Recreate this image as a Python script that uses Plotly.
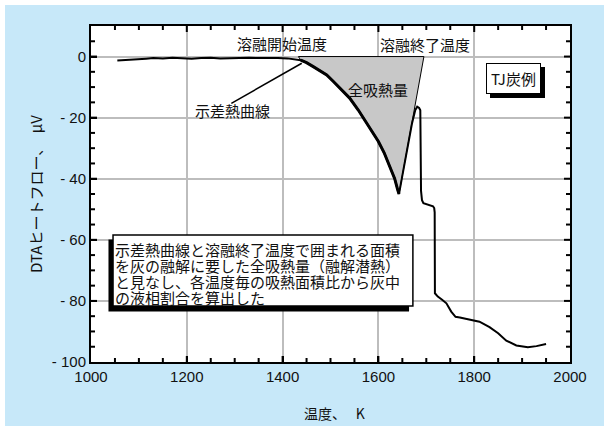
import plotly.graph_objects as go

# ---- data ----
temp_K = [1055, 1070, 1085, 1100, 1115, 1130, 1150, 1170, 1190, 1210, 1230, 1250,
          1270, 1290, 1310, 1330, 1350, 1370, 1390, 1410, 1425, 1438, 1450, 1464,
          1478, 1492, 1505, 1520, 1540, 1558, 1575, 1587, 1600, 1612, 1623, 1634,
          1640, 1643, 1650, 1660, 1670, 1677, 1681, 1685, 1687.5, 1689, 1691, 1694,
          1700, 1708, 1714, 1716.5, 1717.5, 1718, 1724, 1733, 1742, 1752, 1761, 1770,
          1790, 1811, 1832, 1850, 1867, 1888, 1912, 1930, 1950]
dta_uV = [-1.3, -1.2, -1.1, -0.9, -0.7, -0.5, -0.6, -0.4, -0.6, -0.7, -0.5, -0.4,
          -0.6, -0.5, -0.6, -0.4, -0.5, -0.4, -0.5, -0.6, -0.8, -1.2, -2.0, -3.3,
          -4.6, -6.0, -8.0, -10.5, -13.6, -17.5, -21.5, -24.5, -27.8, -31.5, -35.5, -40.0,
          -43.5, -45.0, -39.0, -30.5, -22.0, -17.5, -16.4, -16.8, -17.6, -44.0, -47.0, -48.0,
          -48.3, -48.6, -49.0, -49.6, -51.0, -77.5, -78.6, -79.6, -80.8, -83.5, -85.2, -85.4,
          -86.2, -86.8, -88.6, -90.6, -93.0, -94.6, -95.2, -94.8, -94.1]

melt_start_K = 1433
melt_end_K = 1695
peak_min_K = 1643

x_tickvals = [1000, 1200, 1400, 1600, 1800, 2000]
x_ticktext = ["1000", "1200", "1400", "1600", "1800", "2000"]
y_tickvals = [0, -20, -40, -60, -80, -100]
y_ticktext = ["0", "- 20", "- 40", "- 60", "- 80", "- 100"]
x_minor_step = 50
y_minor_step = 5

note_lines = [
    "示差熱曲線と溶融終了温度で囲まれる面積",
    "を灰の融解に要した全吸熱量（融解潜熱）",
    "と見なし、各温度毎の吸熱面積比から灰中",
    "の液相割合を算出した",
]

# ---- build ----
JP = "Noto Sans CJK JP"
NUM = "Arial, Liberation Sans, sans-serif"
X_RANGE = [1000, 2000]
Y_RANGE = [-100, 10]

desc_x = [t for t in temp_K if melt_start_K < t <= peak_min_K]
desc_y = [v for t, v in zip(temp_K, dta_uV) if melt_start_K < t <= peak_min_K]

fig = go.Figure()

fig.add_trace(go.Scatter(
    x=[melt_start_K] + desc_x + [melt_end_K, melt_start_K],
    y=[0] + desc_y + [0, 0],
    fill="toself", fillcolor="#c8c8c8", mode="lines",
    line=dict(color="black", width=1), hoverinfo="skip", showlegend=False))
fig.add_trace(go.Scatter(x=temp_K, y=dta_uV, mode="lines",
                         line=dict(color="black", width=2), showlegend=False))
fig.add_trace(go.Scatter(x=desc_x, y=desc_y, mode="lines",
                         line=dict(color="black", width=3), showlegend=False))

shapes = [
    dict(type="rect", xref="x", yref="y", x0=1036.5, x1=1664, y0=-83.5, y1=-59.9,
         fillcolor="black", line=dict(width=0)),
    dict(type="rect", xref="x", yref="y", x0=1046, x1=1672, y0=-81.7, y1=-58.4,
         fillcolor="white", line=dict(color="black", width=1.5)),
    dict(type="line", xref="x", yref="y", x0=1293, y0=-15.3, x1=1440, y1=-2.2,
         line=dict(color="black", width=1.5)),
]

# inside tick marks on all four sides (axis decoration, generated from the tick steps)
TICK_LINE = dict(color="black", width=2)
xv = X_RANGE[0] + x_minor_step
while xv < X_RANGE[1]:
    ln = 6 if xv in x_tickvals else 4
    for anchor, sign in ((0, 1), (1, -1)):
        shapes.append(dict(type="line", xref="x", yref="paper", ysizemode="pixel",
                           yanchor=anchor, x0=xv, x1=xv, y0=0, y1=sign * ln, line=TICK_LINE))
    xv += x_minor_step
yv = Y_RANGE[0] + y_minor_step
while yv < Y_RANGE[1]:
    ln = 6 if yv in y_tickvals else 4
    for anchor, sign in ((0, 1), (1, -1)):
        shapes.append(dict(type="line", xref="paper", yref="y", xsizemode="pixel",
                           xanchor=anchor, y0=yv, y1=yv, x0=0, x1=sign * ln, line=TICK_LINE))
    yv += y_minor_step

annotations = [
    dict(x=1399, y=4.4, text="溶融開始温度", showarrow=False,
         font=dict(family=JP, size=15, color="#111")),
    dict(x=1697, y=3.8, text="溶融終了温度", showarrow=False,
         font=dict(family=JP, size=15, color="#111")),
    dict(x=1599, y=-10.9, text="全吸熱量", showarrow=False,
         font=dict(family=JP, size=15, color="#111")),
    dict(x=1295, y=-17.6, text="示差熱曲線", showarrow=False,
         font=dict(family=JP, size=15, color="#111")),
    dict(x=1882, y=-7.1, text="TJ炭例", showarrow=False, xshift=4, yshift=-4,
         font=dict(family=JP, size=15, color="black"), bgcolor="black",
         bordercolor="black", borderwidth=1, borderpad=4),
    dict(x=1882, y=-7.1, text="TJ炭例", showarrow=False,
         font=dict(family=JP, size=15, color="#111"), bgcolor="white",
         bordercolor="black", borderwidth=1, borderpad=4),
    dict(x=0.508, y=-0.115, xref="paper", yref="paper", text="温度、\u2002\u2009K",
         showarrow=False, yanchor="top", font=dict(family=JP, size=14, color="#111")),
]
line_y = [-63.3, -68.5, -73.7, -78.9]
for txt, yy in zip(note_lines, line_y):
    annotations.append(dict(x=1048, y=yy, text=txt, showarrow=False, xanchor="left",
                            yanchor="middle", borderpad=0,
                            font=dict(family=JP, size=15, color="#111")))

major = dict(showline=True, linecolor="black", linewidth=2, mirror=True,
             ticks="inside", ticklen=6, tickwidth=2, tickcolor="black",
             showgrid=True, gridcolor="#bdbdbd", gridwidth=2,
             zeroline=False, tickfont=dict(family=NUM, size=15, color="#111"))

fig.update_layout(
    width=599, height=421,
    margin=dict(l=86, r=33.5, t=21, b=64),
    paper_bgcolor="#c7e8f9", plot_bgcolor="white",
    shapes=shapes, annotations=annotations, showlegend=False,
    xaxis=dict(range=X_RANGE, tickmode="array", tickvals=x_tickvals, ticktext=x_ticktext, **major),
    yaxis=dict(range=Y_RANGE, tickmode="array", tickvals=y_tickvals, ticktext=y_ticktext,
               title=dict(text="DTAヒートフロー、　μV", font=dict(family=JP, size=15, color="#111"),
                          standoff=6),
               **major),
)

fig.write_html("out.html",
               post_script="document.body.style.margin='5px 0 0 5px';"
                           "document.body.style.overflow='hidden';"
                           "document.body.style.background='white';")
